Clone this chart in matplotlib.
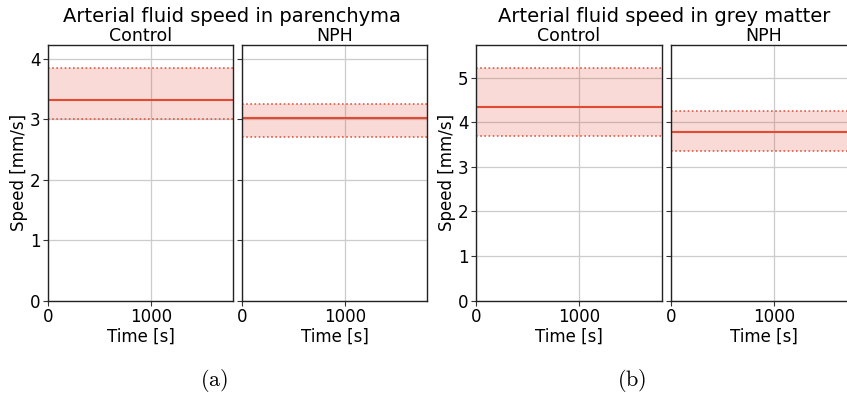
import matplotlib
matplotlib.use("Agg")
import matplotlib.pyplot as plt
import numpy as np

plt.rcParams['mathtext.fontset'] = 'cm'
plt.rcParams['font.family'] = ['DejaVu Sans']

# Data
time = [0, 1800]
groups = ["Control", "NPH"]
titles = ["Arterial fluid speed in parenchyma", "Arterial fluid speed in grey matter"]
panel_labels = ["(a)", "(b)"]
paren_mean = [3.32, 3.02]
paren_low = [3.00, 2.70]
paren_high = [3.84, 3.25]
grey_mean = [4.34, 3.77]
grey_low = [3.69, 3.36]
grey_high = [5.21, 4.24]

xticks = [0, 1000]
paren_yticks = [0, 1, 2, 3, 4]
grey_yticks = [0, 1, 2, 3, 4, 5]

color = '#E24A33'

W, H = 847, 396
fig = plt.figure(figsize=(W/100, H/100), dpi=100)

def px_axes(x0, x1, y0, y1):
    return fig.add_axes([x0/W, 1 - y1/H, (x1-x0)/W, (y1-y0)/H])

layout = [
    [(48, 233), (242, 427)],
    [(476, 662), (671, 856)],
]
datasets = [
    (paren_mean, paren_low, paren_high, paren_yticks),
    (grey_mean, grey_low, grey_high, grey_yticks),
]

for g in range(2):
    means, lows, highs, yt = datasets[g]
    ymax = 1.1 * max(highs)
    for i in range(2):
        x0, x1 = layout[g][i]
        ax = px_axes(x0, x1, 45, 300.5)
        ax.set_axisbelow(True)
        ax.fill_between(time, [lows[i]]*2, [highs[i]]*2, color=color, alpha=0.2, lw=0, zorder=1)
        ax.plot(time, [means[i]]*2, color=color, lw=1.5, zorder=3)
        ax.plot(time, [lows[i]]*2, color=color, lw=1.2, ls=(0, (1, 1.5)), alpha=0.9, zorder=3)
        ax.plot(time, [highs[i]]*2, color=color, lw=1.2, ls=(0, (1, 1.5)), alpha=0.9, zorder=3)
        ax.set_xlim(0, 1800)
        ax.set_ylim(0, ymax)
        ax.set_xticks(xticks)
        ax.set_yticks(yt)
        ax.grid(True, color='#cccccc', lw=0.9)
        for s in ax.spines.values():
            s.set_color('#222222')
            s.set_linewidth(1.0)
            s.set_zorder(5)
        ax.tick_params(labelsize=12, length=3.5, width=0.8, color='#333333', pad=2)
        ax.set_xlabel("Time [s]", fontsize=12, labelpad=1)
        ax.set_title(groups[i], fontsize=12.5, pad=2)
        if i == 0:
            ax.set_ylabel("Speed [mm/s]", fontsize=12, labelpad=1)
        else:
            ax.tick_params(labelleft=False)
    fig.text([232, 664][g] / W, 1 - 17 / H, titles[g], ha='center', va='center', fontsize=14)
    fig.text([214, 632][g] / W, 1 - 381 / H, r'$\mathrm{' + panel_labels[g] + '}$', ha='center', va='center', fontsize=16)

fig.savefig("out.png", dpi=100)
